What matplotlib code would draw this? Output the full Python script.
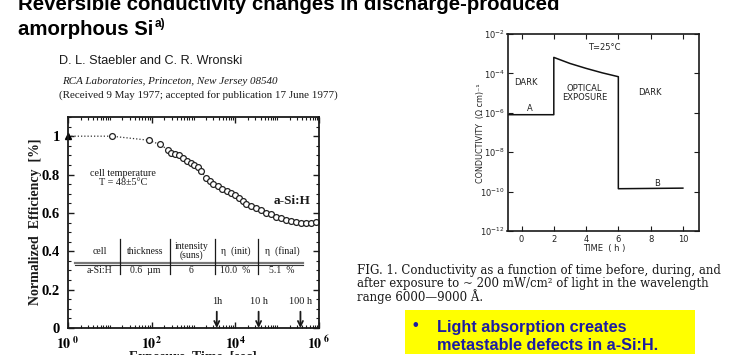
import matplotlib
matplotlib.use('Agg')
import matplotlib.pyplot as plt
from matplotlib.patches import Rectangle
from matplotlib.ticker import FixedLocator, NullFormatter, LogLocator, MultipleLocator

# ---------------- data: left chart (normalized efficiency vs exposure time) -------------
start_time = [1]
start_eff = [1.0]
exposure_s = [11, 85, 155, 245, 295, 370, 445, 560, 690, 850, 1020, 1290, 1550, 1950,
              2450, 3000, 3900, 4900, 6200, 7800, 9800, 12300, 15100, 18200, 24000,
              31600, 41700, 55000, 72400, 95500, 126000, 166000, 219000, 288000,
              380000, 501000, 661000, 871000]
efficiency = [1.0, 0.979, 0.957, 0.930, 0.913, 0.908, 0.904, 0.887, 0.873, 0.861, 0.848,
              0.838, 0.817, 0.782, 0.764, 0.751, 0.738, 0.726, 0.716, 0.704, 0.691, 0.677,
              0.663, 0.647, 0.637, 0.625, 0.613, 0.602, 0.592, 0.581, 0.571, 0.564, 0.557,
              0.553, 0.550, 0.546, 0.546, 0.551]
left_xticks = [1, 100, 1e4, 1e6]
left_xticklabels = [r'$\mathbf{10^{\ 0}}$', r'$\mathbf{10^{2}}$', r'$\mathbf{10^{4}}$', r'$\mathbf{10^{\ 6}}$']
left_yticks = [0, 0.2, 0.4, 0.6, 0.8, 1.0]
left_yticklabels = ['0', '0.2', '0.4', '0.6', '0.8', '1']
table_headers = ['cell', 'thickness', 'intensity\n(suns)', 'η  (init)', 'η  (final)']
table_values = ['a-Si:H', '0.6  µm', '6', '10.0  %', '5.1  %']
arrow_times = [3600, 36000, 360000]
arrow_labels = ['1h', '10 h', '100 h']

# ---------------- data: right chart (conductivity vs time) ----------------
time_h = [-0.87, 2, 2, 3, 4, 5, 6, 6, 10]
conductivity = [8e-7, 8e-7, 6.5e-4, 3.2e-4, 1.8e-4, 1.07e-4, 6.8e-5, 1.4e-10, 1.5e-10]
right_xticks = [0, 2, 4, 6, 8, 10]
right_xticklabels = ['0', '2', '4', '6', '8', '10']
right_yticks = [1e-12, 1e-10, 1e-8, 1e-6, 1e-4, 1e-2]
right_yticklabels = [r'$10^{-12}$', r'$10^{-10}$', r'$10^{-8}$', r'$10^{-6}$', r'$10^{-4}$', r'$10^{-2}$']

W, H = 738, 355
def fx(px):
    return px / W
def fy(py):
    return 1 - py / H

INK = '#1a1a1a'
SERIF = ['Liberation Serif', 'DejaVu Serif']

fig = plt.figure(figsize=(W / 100, H / 100), dpi=100)
fig.patch.set_facecolor('white')

# ---------------- header text ----------------
TF = 'Liberation Sans'
t1 = fig.text(fx(18), fy(9.5), 'Reversible conductivity changes in discharge-produced',
              family=TF, weight='bold', size=14.7, va='baseline', ha='left', color='black')
t2 = fig.text(fx(18), fy(35), 'amorphous Si', family=TF, weight='bold', size=14.7,
              va='baseline', ha='left', color='black')
fig.canvas.draw()
bb = t2.get_window_extent()
fig.text((bb.x1 + 1) / W, fy(27), 'a)', family=TF, weight='bold', size=8.5,
         va='baseline', ha='left')

fig.text(fx(59), fy(61), 'D. L. Staebler and C. R. Wronski', family='Liberation Sans',
         size=9.1, va='center', ha='left', color=INK)
fig.text(fx(62), fy(82), 'RCA Laboratories, Princeton, New Jersey 08540', family=SERIF,
         style='italic', size=7.9, va='center', ha='left', color=INK)
fig.text(fx(59), fy(95), '(Received 9 May 1977; accepted for publication 17 June 1977)',
         family=SERIF, size=7.9, va='center', ha='left', color=INK)

# ---------------- left chart ----------------
axL = fig.add_axes([fx(68), fy(328), (319 - 68) / W, (328 - 117) / H])
axL.set_xscale('log')
axL.set_xlim(1, 1e6)
axL.set_ylim(0, 1.1)
axL.plot(start_time + exposure_s, start_eff + efficiency, ls=(0, (1, 1.6)), lw=0.9, color='#333333')
axL.plot(exposure_s, efficiency, ls='none', marker='o', ms=4.2, mfc='white', mec='#222222', mew=0.9)
axL.plot(start_time, start_eff, ls='none', marker='^', ms=5, color='black', clip_on=False)
for s in axL.spines.values():
    s.set_linewidth(1.3)
    s.set_color(INK)
axL.set_xticks(left_xticks)
axL.set_xticklabels(left_xticklabels, fontsize=10, math_fontfamily='stix')
axL.xaxis.set_minor_locator(LogLocator(base=10, subs=range(1, 10), numticks=20))
axL.xaxis.set_minor_formatter(NullFormatter())
axL.set_yticks(left_yticks)
axL.set_yticklabels(left_yticklabels, family=SERIF, weight='bold', fontsize=10.5)
axL.yaxis.set_minor_locator(MultipleLocator(0.05))
axL.tick_params(which='both', direction='in', top=True, right=True, color=INK)
axL.tick_params(which='major', length=4, width=1.0)
axL.tick_params(which='minor', length=2, width=0.8)
axL.tick_params(axis='y', pad=6)
axL.tick_params(axis='x', pad=5)

# table
col_edges = [17.8, 269, 3236, 33900]
col_centers = [5.75, 70.8, 891, 1e4, 1.32e5]
axL.plot([1.5, 4.2e5], [0.338, 0.338], color='#777777', lw=1.6)
axL.plot([1.5, 4.2e5], [0.330, 0.330], color='#333333', lw=0.8)
for xe in col_edges:
    axL.plot([xe, xe], [0.284, 0.462], color=INK, lw=0.9)
for xc, h, v in zip(col_centers, table_headers, table_values):
    axL.text(xc, 0.40, h, ha='center', va='center', family=SERIF, size=7, linespacing=0.95, color=INK)
    axL.text(xc, 0.298, v, ha='center', va='center', family=SERIF, size=7, color=INK)

axL.text(20.4, 0.78, 'cell temperature\nT = 48±5°C', ha='center', va='center', family=SERIF,
         size=7.3, linespacing=1.0, color=INK)
axL.text(2.3e5, 0.66, 'a-Si:H', ha='center', va='center', family=SERIF, weight='bold',
         size=9.5, color=INK)
for t, lab in zip(arrow_times, arrow_labels):
    axL.annotate('', xy=(t, 0.0), xytext=(t, 0.085),
                 arrowprops=dict(arrowstyle='->', lw=1.3, color=INK, mutation_scale=9,
                                 shrinkA=0, shrinkB=0))
    axL.text(t, 0.136, lab, ha='center', va='center', family=SERIF, size=7.5, color=INK)

fig.text(fx(36), fy(222), 'Normalized  Efficiency  [%]', rotation=90, family=SERIF,
         weight='bold', size=10, ha='center', va='center', color=INK)
fig.text(fx(193), fy(351), 'Exposure  Time  [sec]', family=SERIF, weight='bold', size=10,
         ha='center', va='top', color=INK)

# ---------------- right chart ----------------
axR = fig.add_axes([fx(507.5), fy(231), (699 - 507.5) / W, (231 - 34) / H])
axR.set_yscale('log')
axR.set_xlim(-0.87, 11.0)
axR.set_ylim(1e-12, 1e-2)
axR.plot(time_h, conductivity, color='#111111', lw=1.1)
for s in axR.spines.values():
    s.set_linewidth(1.2)
    s.set_color(INK)
axR.set_xticks(right_xticks)
axR.set_xticklabels(right_xticklabels, fontsize=6, family='DejaVu Sans', color='#222222')
axR.set_yticks(right_yticks)
axR.set_yticklabels(right_yticklabels, fontsize=6, math_fontfamily='dejavusans', color='#222222')
axR.yaxis.set_minor_locator(FixedLocator([]))
axR.tick_params(which='both', direction='in', top=True, right=True, length=3.5, width=0.8,
                color=INK)
axR.tick_params(axis='y', pad=2)
axR.tick_params(axis='x', pad=3)

rk = dict(family='DejaVu Sans', size=6, color='#222222', ha='center', va='center')
axR.text(5.1, 10**-2.69, 'T=25°C', **rk)
axR.text(0.25, 10**-4.47, 'DARK', **rk)
axR.text(3.9, 10**-5.0, 'OPTICAL\nEXPOSURE', linespacing=1.1, **rk)
axR.text(7.96, 10**-4.95, 'DARK', **rk)
axR.text(0.5, 10**-5.8, 'A', **rk)
axR.text(8.4, 10**-9.6, 'B', **rk)

fig.text(fx(480), fy(133), 'CONDUCTIVITY  (Ω cm)⁻¹', rotation=90, family='DejaVu Sans',
         size=5.8, ha='center', va='center', color='#222222')
fig.text(fx(604), fy(248), 'TIME  ( h )', family='DejaVu Sans', size=6,
         ha='center', va='center', color='#222222')

# caption
cap_lines = ['FIG. 1. Conductivity as a function of time before, during, and',
             'after exposure to ~ 200 mW/cm² of light in the wavelength',
             'range 6000—9000 Å.']
for i, line in enumerate(cap_lines):
    fig.text(fx(357), fy(274 + 13.5 * i), line, family='DejaVu Serif', size=8.5,
             ha='left', va='baseline', color=INK)

# yellow box with bullet
fig.patches.append(Rectangle((fx(405), fy(354)), (695 - 405) / W, (354 - 310) / H,
                             transform=fig.transFigure, facecolor='#ffff00', edgecolor='none'))
BLUE = '#1c1ca3'
fig.text(fx(415), fy(330), '•', family='Liberation Sans', weight='bold', size=11.5,
         ha='center', va='baseline', color=BLUE)
fig.text(fx(437), fy(332), 'Light absorption creates', family='Liberation Sans', weight='bold',
         size=11.7, ha='left', va='baseline', color=BLUE)
fig.text(fx(437), fy(350), 'metastable defects in a-Si:H.', family='Liberation Sans', weight='bold',
         size=11.7, ha='left', va='baseline', color=BLUE)

fig.savefig('out.png', dpi=100, facecolor='white')
